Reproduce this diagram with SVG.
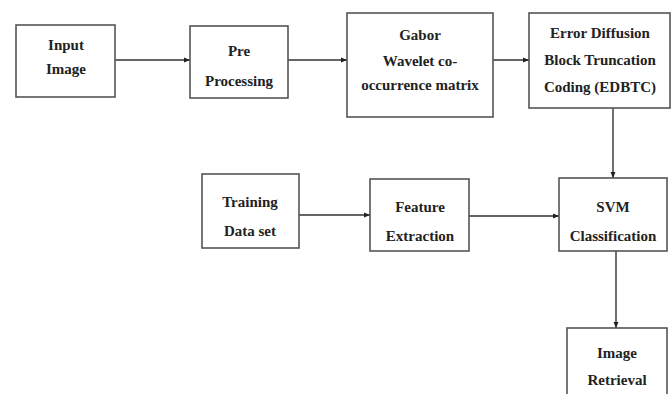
<svg xmlns="http://www.w3.org/2000/svg" width="672" height="394" viewBox="0 0 672 394">
<style>
.box{fill:#fff;stroke:#555;stroke-width:1.6}
.t{font-family:"Liberation Serif","Times New Roman",serif;font-weight:bold;font-size:15px;fill:#222;text-anchor:middle}
.c{stroke:#333;stroke-width:1.4;fill:none;marker-end:url(#ah)}
</style>
<defs>
<marker id="ah" viewBox="0 0 6 6" refX="6" refY="3" markerWidth="6" markerHeight="6" markerUnits="userSpaceOnUse" orient="auto">
<path d="M0,0.5 L6,3 L0,5.5 Z" fill="#222"/>
</marker>
</defs>
<rect width="672" height="394" fill="#fff"/>
<g id="connectors">
<line class="c" x1="115" y1="60" x2="190" y2="60"/>
<line class="c" x1="288" y1="60" x2="347" y2="60"/>
<line class="c" x1="493" y1="60" x2="529" y2="60"/>
<line class="c" x1="613" y1="108" x2="613" y2="178"/>
<line class="c" x1="299" y1="215" x2="370" y2="215"/>
<line class="c" x1="469" y1="216" x2="559" y2="216"/>
<line class="c" x1="616" y1="251" x2="616" y2="328"/>
</g>
<g id="input">
<rect class="box" x="16" y="25" width="99" height="72"/>
<text class="t" x="66" y="50">Input</text>
<text class="t" x="66" y="74">Image</text>
</g>
<g id="pre">
<rect class="box" x="190" y="26" width="98" height="72"/>
<text class="t" x="239" y="56">Pre</text>
<text class="t" x="239" y="86">Processing</text>
</g>
<g id="gabor">
<rect class="box" x="347" y="13" width="146" height="104"/>
<text class="t" x="420" y="40">Gabor</text>
<text class="t" x="420" y="66">Wavelet co-</text>
<text class="t" x="420" y="90">occurrence matrix</text>
</g>
<g id="edbtc">
<rect class="box" x="529" y="13" width="141" height="95"/>
<text class="t" x="600" y="38">Error Diffusion</text>
<text class="t" x="600" y="65">Block Truncation</text>
<text class="t" x="600" y="92">Coding (EDBTC)</text>
</g>
<g id="training">
<rect class="box" x="202" y="174" width="97" height="74"/>
<text class="t" x="250" y="207">Training</text>
<text class="t" x="250" y="236">Data set</text>
</g>
<g id="feature">
<rect class="box" x="370" y="179" width="99" height="72"/>
<text class="t" x="420" y="212">Feature</text>
<text class="t" x="420" y="241">Extraction</text>
</g>
<g id="svm">
<rect class="box" x="559" y="178" width="108" height="73"/>
<text class="t" x="613" y="212">SVM</text>
<text class="t" x="613" y="241">Classification</text>
</g>
<g id="retrieval">
<rect class="box" x="567" y="328" width="100" height="80"/>
<text class="t" x="617" y="358">Image</text>
<text class="t" x="617" y="385">Retrieval</text>
</g>
</svg>
